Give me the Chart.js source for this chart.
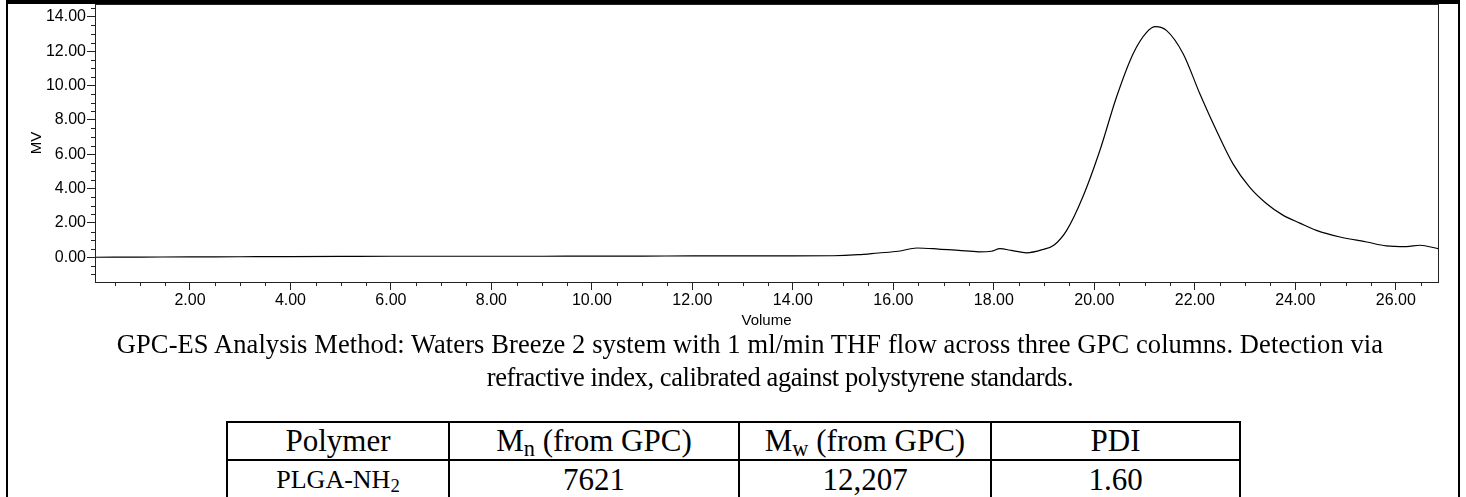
<!DOCTYPE html>
<html>
<head>
<meta charset="utf-8">
<script src="https://cdn.jsdelivr.net/npm/chart.js@4"></script>
<style>
	body { margin: 0; background: #fff; }
	#page { position: relative; width: 1466px; height: 497px; overflow: hidden; background: #fff; }
	#frame { position: absolute; left: 6px; top: 0; width: 1450px; height: 600px; border: 2px solid #000; border-top-width: 4px; }
	#wrap { position: absolute; left: 0; top: 0; width: 1466px; height: 334px; }
	.cap { position: absolute; width: 1400px; text-align: center; white-space: nowrap;
		font-family: "Liberation Serif", "Times New Roman", serif; font-size: 26.5px; line-height: 33px; color: #000; }
	#tabela { position: absolute; left: 226px; top: 421px; border-collapse: collapse; table-layout: fixed;
		font-family: "Liberation Serif", "Times New Roman", serif; color: #000; }
	#tabela td { border: 2px solid #000; text-align: center; vertical-align: middle; padding: 0; white-space: nowrap; }
	#tabela tr.cab td { height: 35px; font-size: 31px; }
	#tabela tr.lin td { height: 38px; font-size: 31px; }
	#tabela sub { font-size: 0.72em; vertical-align: -0.22em; line-height: 0; }
</style>
</head>
<body>
<div id="page">
	<div id="frame"></div>
	<div id="wrap"><canvas id="myChartGPC" width="1466" height="334"></canvas></div>
	<div class="cap" style="left:50px; top:328px; letter-spacing:0.1px">GPC-ES Analysis Method: Waters Breeze 2 system with 1 ml/min THF flow across three GPC columns. Detection via</div>
	<div class="cap" style="left:80px; top:361px; letter-spacing:-0.4px">refractive index, calibrated against polystyrene standards.</div>
	<table id="tabela">
		<colgroup><col style="width:222px"><col style="width:290px"><col style="width:252px"><col style="width:249px"></colgroup>
		<tr class="cab" id="cabecalho"></tr>
		<tr class="lin" id="linha"></tr>
	</table>
</div>
<script>
/* Dados do cromatograma */
var volume = [0.11, 1, 2, 3, 4, 5, 6, 7, 8, 9, 10, 11, 12, 13, 14, 14.8, 15.3, 15.7, 16.1, 16.47, 16.9, 17.3, 17.7, 17.95, 18.12, 18.35, 18.65, 18.97, 19.2, 19.45, 19.77, 20.11, 20.44, 20.77, 21.04, 21.22, 21.44, 21.77, 22.1, 22.43, 22.76, 23.09, 23.43, 23.76, 24.09, 24.42, 24.89, 25.42, 25.81, 26.21, 26.48, 26.84];
var mv = [0.0, 0.01, 0.02, 0.03, 0.04, 0.05, 0.06, 0.06, 0.06, 0.06, 0.07, 0.07, 0.08, 0.08, 0.08, 0.09, 0.15, 0.25, 0.35, 0.54, 0.48, 0.4, 0.32, 0.35, 0.5, 0.4, 0.26, 0.45, 0.72, 1.57, 3.51, 6.22, 9.32, 11.84, 13.1, 13.43, 13.2, 11.84, 9.52, 7.38, 5.44, 4.09, 3.12, 2.44, 1.99, 1.57, 1.18, 0.89, 0.66, 0.62, 0.7, 0.5];

var xTicks = [2, 4, 6, 8, 10, 12, 14, 16, 18, 20, 22, 24, 26];
var yTicks = [0, 2, 4, 6, 8, 10, 12, 14];
var xRange = [0.11, 26.84];
var yRange = [-1.44, 14.75];
var minorStep = 0.5;

/* Tabela de resultados */
var colunas = ["Polymer", "M<sub>n</sub> (from GPC)", "M<sub>w</sub> (from GPC)", "PDI"];
var valores = ["PLGA-NH<sub>2</sub>", "7621", "12,207", "1.60"];

colunas.forEach(function(c) {
	var td = document.createElement("td");
	td.innerHTML = c;
	document.getElementById("cabecalho").appendChild(td);
});
valores.forEach(function(v, i) {
	var td = document.createElement("td");
	td.innerHTML = v;
	if (i == 0) td.style.fontSize = "26px";
	document.getElementById("linha").appendChild(td);
});

var corEixo = "#222";
var fonteEixo = { family: "'Liberation Sans', Arial, sans-serif", size: 16 };

/* Ticks menores e moldura da area */
var moldura = {
	id: "moldura",
	afterDraw: function(chart) {
		var ctx = chart.ctx;
		var a = chart.chartArea;
		var sx = chart.scales.x;
		var sy = chart.scales.y;
		ctx.save();
		ctx.strokeStyle = corEixo;
		ctx.lineWidth = 1;
		ctx.strokeRect(Math.round(a.left) + 0.5, Math.round(a.top) + 0.5, Math.round(a.right - a.left), Math.round(a.bottom - a.top));
		ctx.beginPath();
		for (var v = Math.ceil(sx.min / minorStep) * minorStep; v <= sx.max; v += minorStep) {
			if (xTicks.indexOf(v) >= 0) continue;
			var px = Math.round(sx.getPixelForValue(v)) + 0.5;
			ctx.moveTo(px, a.bottom);
			ctx.lineTo(px, a.bottom + 4);
		}
		for (var w = Math.ceil(sy.min / minorStep) * minorStep; w <= sy.max; w += minorStep) {
			if (yTicks.indexOf(w) >= 0) continue;
			var py = Math.round(sy.getPixelForValue(w)) + 0.5;
			ctx.moveTo(a.left, py);
			ctx.lineTo(a.left - 4, py);
		}
		ctx.stroke();
		ctx.restore();
	}
};

var chartGPC = new Chart(document.getElementById("myChartGPC"), {
	type: "line",
	data: {
		datasets: [{
			data: volume.map(function(v, i) { return { x: v, y: mv[i] }; }),
			borderColor: "#000",
			borderWidth: 1.2,
			pointRadius: 0,
			fill: false,
			cubicInterpolationMode: "monotone"
		}]
	},
	options: {
		responsive: false,
		animation: false,
		layout: { padding: { left: 28, right: 28, top: 4, bottom: 0 } },
		plugins: { legend: { display: false }, tooltip: { enabled: false } },
		scales: {
			x: {
				type: "linear",
				min: xRange[0],
				max: xRange[1],
				afterBuildTicks: function(s) { s.ticks = xTicks.map(function(v) { return { value: v }; }); },
				afterFit: function(s) { s.height = 52; s.paddingLeft = 0; s.paddingRight = 0; },
				ticks: { color: "#000", font: fonteEixo, padding: 1, maxRotation: 0, autoSkip: false,
					callback: function(v) { return Number(v).toFixed(2); } },
				grid: { drawOnChartArea: false, drawTicks: true, tickLength: 8, color: corEixo },
				border: { display: false },
				title: { display: true, text: "Volume", color: "#000", font: { family: fonteEixo.family, size: 15 }, padding: { top: 0, bottom: 4 } }
			},
			y: {
				min: yRange[0],
				max: yRange[1],
				afterBuildTicks: function(s) { s.ticks = yTicks.map(function(v) { return { value: v }; }); },
				afterFit: function(s) { s.width = 67; s.paddingTop = 0; s.paddingBottom = 0; },
				ticks: { color: "#000", font: fonteEixo, padding: 1, autoSkip: false,
					callback: function(v) { return Number(v).toFixed(2); } },
				grid: { drawOnChartArea: false, drawTicks: true, tickLength: 8, color: corEixo },
				border: { display: false },
				title: { display: true, text: "MV", color: "#000", font: { family: fonteEixo.family, size: 15 }, padding: 0 }
			}
		}
	},
	plugins: [moldura]
});
</script>
</body>
</html>
